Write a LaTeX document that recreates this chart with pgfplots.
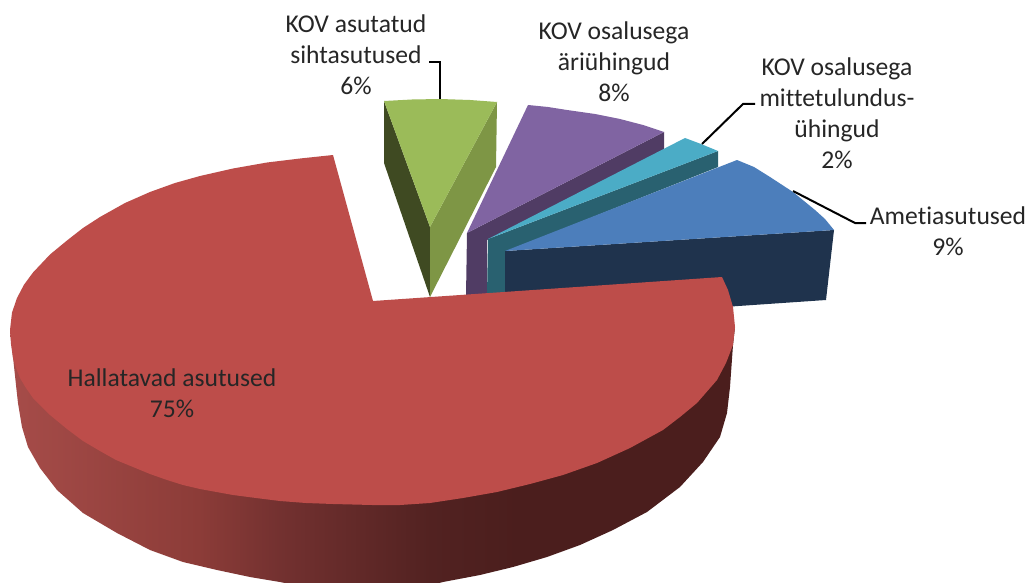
\documentclass[border=0pt]{standalone}
\usepackage{fontspec}
\setmainfont{Carlito}[Ligatures=NoCommon]
\usepackage{pgfplots}
\pgfplotsset{compat=1.18}
\definecolor{redtop}{HTML}{BD4D4A}
\definecolor{redA}{HTML}{A64C49}
\definecolor{redB}{HTML}{8C3C38}
\definecolor{redC}{HTML}{733130}
\definecolor{redD}{HTML}{522221}
\definecolor{redE}{HTML}{4B1E1D}
\definecolor{greentop}{HTML}{9BBB59}
\definecolor{greenL}{HTML}{3F4A22}
\definecolor{greenR}{HTML}{7E9645}
\definecolor{purtop}{HTML}{8064A2}
\definecolor{purside}{HTML}{503C64}
\definecolor{cyantop}{HTML}{4BACC6}
\definecolor{cyanside}{HTML}{296170}
\definecolor{bluetop}{HTML}{4C7EBB}
\definecolor{blueside}{HTML}{1F334D}
\definecolor{txt}{HTML}{262626}
\pgfdeclarehorizontalshading{redside}{100bp}{color(0bp)=(redA); color(25bp)=(redA); color(38bp)=(redB); color(43.6bp)=(redC); color(54bp)=(redD); color(60bp)=(redE); color(100bp)=(redE)}
\tikzset{lbl/.style={font=\fontsize{25.6}{31}\selectfont,text=txt,align=center,inner sep=0pt}}
\begin{document}
\begin{tikzpicture}
\begin{axis}[
  scale only axis, width=1033pt, height=583pt,
  xmin=0, xmax=1033, ymin=0, ymax=583, y dir=reverse,
  axis lines=none]
% page ground
\addplot[fill=white,draw=none] coordinates {(0,0)(1033,0)(1033,583)(0,583)};
% green slice: 6%
\addplot[fill=greenL,draw=none] coordinates {(384,101)(384,163)(430,297)(430,227)};
\addplot[fill=greenR,draw=none] coordinates {(497,102)(496,167)(430,297)(430,227)};
\addplot[fill=greentop,draw=none] coordinates {(384,101)(412,99.5)(440,99)(470,100)(497,102)(430,227)};
% purple slice: 8%
\addplot[fill=purside,draw=none] coordinates {(467,233)(664,132)(664,150)(487,240)(487,296)(466,296)};
\addplot[fill=purtop,draw=none] coordinates {(467,233)(528,105)(548,107)(567,110)(595,114)(620,119)(643,125)(664,132)};
% cyan slice: 2%
\addplot[fill=cyanside,draw=none] coordinates {(488,239)(718,151)(718,167)(505,252)(505,296)(487,296)};
\addplot[fill=cyantop,draw=none] coordinates {(488,239)(685,138)(701,144)(718,151)};
% blue slice: 9%
\addplot[fill=blueside,draw=none] coordinates {(505,251)(834,230)(826,300)(505,322)};
\addplot[fill=bluetop,draw=none] coordinates {(505,251)(737,160)(754,167)(770,177)(793,192)(815,210)(825,219)(834,230)};
% red slice: 75%, side
\addplot[shade,shading=redside,draw=none] coordinates {
(10,330)(13,357)(16,385)(18,403)(22,427)(28,447)(40,468)(57,490)(83,513)(117,533)(150,550)(183,562)(217,570)(250,577)(280,582)(290,584)
(435,584)(443,582)(480,575)(513,567)(547,557)(580,545)(613,530)(647,512)(680,487)(703,462)(720,437)(727,413)(730,387)(733,345)(735,327)};
% red slice: top
\addplot[fill=redtop,draw=none] coordinates {
(373,301)(333,155)(300,158.5)(267,162.5)(233,168.5)(200,176)(175,183)(150,192)(125,203)(100,217)(83,228)(67,240.5)(50,254.5)(33,272.5)(24,284.7)(17,298)(12,312.6)(10,330)
(11,344)(13,358)(16,368)(20,378)(26,388)(33,398)(41,406)(50,415)(67,429)(83,441)(100,451)(116,460)(133,467)(150,474)(167,480)(183,485)(200,489)(233,495)(256,498)(280,501)(306,503)(333,504)(372,505)(400,505)(430,503)(463,498)(497,492)(530,484)(563,475)(597,463)(630,448)(663,430)(680,417)(697,403)(717,380)(726,363)(733,345)(735,327)(733,307)(728,290)(722,277)};
% leader lines
\addplot[black,line width=2pt] coordinates {(440,99)(440,62)(429,62)};
\addplot[black,line width=2pt] coordinates {(702,144)(743,104)(755,104)};
\addplot[black,line width=2pt] coordinates {(793,191)(855,223)(866,223)};
% labels
\node[lbl] at (axis cs:356,55) {KOV asutatud\\sihtasutused\\6\%};
\node[lbl] at (axis cs:614,62) {KOV osalusega\\äriühingud\\8\%};
\node[lbl] at (axis cs:837,113) {KOV osalusega\\mittetulundus-\\ühingud\\2\%};
\node[lbl] at (axis cs:948,231) {Ametiasutused\\9\%};
\node[lbl] at (axis cs:172,393) {Hallatavad asutused\\75\%};
\end{axis}
\end{tikzpicture}
\end{document}
